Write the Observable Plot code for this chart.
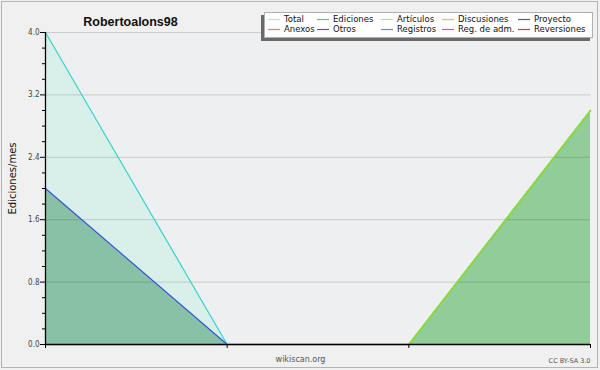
<!DOCTYPE html>
<html>
<head>
<meta charset="utf-8">
<script src="https://cdn.jsdelivr.net/npm/d3@7"></script>
<script src="https://cdn.jsdelivr.net/npm/@observablehq/plot@0.6"></script>
<style>
  html, body { margin: 0; padding: 0; background: #f0f0f0; }
  #chart { position: relative; width: 600px; height: 370px; }
</style>
</head>
<body>
<div id="chart"></div>
<script>
// ---- data ----
const periods = [0, 1, 2, 3];
const total = [4, 0, 0, 3];
const registros = [2, 0, 0, 0];
const ediciones = [0, 0, 0, 3];
const articulos = [0, 0, 0, 3];
const yTicks = [0, 0.8, 1.6, 2.4, 3.2, 4.0];
const yMinor = [0.2, 0.4, 0.6, 1.0, 1.2, 1.4, 1.8, 2.0, 2.2, 2.6, 2.8, 3.0, 3.4, 3.6, 3.8];
const legendLabels = ["Total", "Ediciones", "Artículos", "Discusiones", "Proyecto",
                      "Anexos", "Otros", "Registros", "Reg. de adm.", "Reversiones"];
const legendColors = ["#a8e8e8", "#70c070", "#c0e840", "#f0c020", "#606060",
                      "#f08040", "#8040e0", "#7080f0", "#e040f0", "#f03030"];
const titleText = "Robertoalons98";
const yLabel = "Ediciones/mes";

const rows = periods.map((p, i) => ({
  p, total: total[i], registros: registros[i], ediciones: ediciones[i], articulos: articulos[i]
}));

const font = "DejaVu Sans, sans-serif";

const chart = Plot.plot({
  width: 600,
  height: 370,
  marginLeft: 45,
  marginRight: 10,
  marginTop: 32,
  marginBottom: 26,
  style: { background: "#f0f0f0", fontFamily: font },
  x: { domain: [0, 3], axis: null },
  y: { domain: [0, 4], axis: null },
  marks: [
    Plot.frame({ fill: "#eeeff1", stroke: null }),
    Plot.areaY(rows, { x: "p", y: "total", fill: "#d9f0ea" }),
    Plot.areaY(rows, { x: "p", y: "registros", fill: "#88c1a5" }),
    Plot.areaY(rows, { x: "p", y: "ediciones", fill: "#92cc98" }),
    Plot.gridY(yTicks, { stroke: "#000", strokeOpacity: 0.15 }),
    Plot.lineY(rows, { x: "p", y: "total", stroke: "#33d4cc", strokeWidth: 1.2 }),
    Plot.lineY(rows, { x: "p", y: "registros", stroke: "#3355dd", strokeWidth: 1.2 }),
    Plot.lineY(rows, { x: "p", y: "ediciones", stroke: "#70c070", strokeWidth: 1.2 }),
    Plot.lineY(rows, { x: "p", y: "articulos", stroke: "#8ee020", strokeWidth: 1.4 }),
    Plot.axisY(yTicks, { tickSize: 5, tickFormat: d3.format(".1f"), fontSize: 8,
                         fill: "#444", stroke: "#000", tickPadding: 1, label: null,
                         fontFamily: "DejaVu Sans Condensed, DejaVu Sans, sans-serif" }),
    Plot.axisY(yMinor, { tickSize: 3, tickFormat: null, text: null, stroke: "#000", label: null }),
    Plot.axisX(periods, { tickSize: 4, text: null, stroke: "#000", label: null }),
    Plot.ruleX([0], { stroke: "#000", strokeWidth: 1.3 }),
    Plot.ruleY([0], { stroke: "#000", strokeWidth: 1.3 }),
    Plot.text([titleText], { frameAnchor: "top-left", dx: 85, dy: -15, textAnchor: "middle",
                             fontSize: 12.5, fontWeight: "bold", fill: "#111",
                             fontFamily: "Liberation Sans, sans-serif" }),
    Plot.text([yLabel], { frameAnchor: "left", dx: -33, dy: -10, rotate: -90, textAnchor: "middle",
                          fontSize: 10, fill: "#111" }),
    Plot.text(["wikiscan.org"], { frameAnchor: "bottom-left", dx: 255, dy: 17, textAnchor: "middle",
                                   fontSize: 8, fill: "#555" }),
    Plot.text(["CC BY-SA 3.0"], { frameAnchor: "bottom-right", dx: 0, dy: 18, textAnchor: "end",
                                   fontSize: 6.5, fill: "#555" })
  ]
});

document.getElementById("chart").appendChild(chart);

// outer border + legend drawn into the same svg
const svg = d3.select(chart);
svg.append("rect").attr("x", 1.5).attr("y", 1.5).attr("width", 596).attr("height", 366)
  .attr("fill", "none").attr("stroke", "#b4b4b4");

const lg = svg.append("g").attr("font-family", font).attr("font-size", 8.5)
  .attr("text-anchor", "start");
lg.append("rect").attr("x", 261).attr("y", 15).attr("width", 329).attr("height", 26).attr("fill", "#6a6a6a");
lg.append("rect").attr("x", 264.5).attr("y", 12.5).attr("width", 328).attr("height", 25)
  .attr("fill", "#fff").attr("stroke", "#b0b0b0");
const colX = [268, 317, 381, 442, 518];
const rowY = [19.5, 29.5];
legendLabels.forEach((lab, i) => {
  const c = i % 5, r = Math.floor(i / 5);
  lg.append("line").attr("x1", colX[c]).attr("x2", colX[c] + 12)
    .attr("y1", rowY[r]).attr("y2", rowY[r]).attr("stroke", legendColors[i]).attr("stroke-width", 1.2);
  lg.append("text").attr("x", colX[c] + 16).attr("y", rowY[r]).attr("dy", "0.35em")
    .attr("text-anchor", "start").attr("fill", "#111").text(lab);
});
</script>
</body>
</html>
